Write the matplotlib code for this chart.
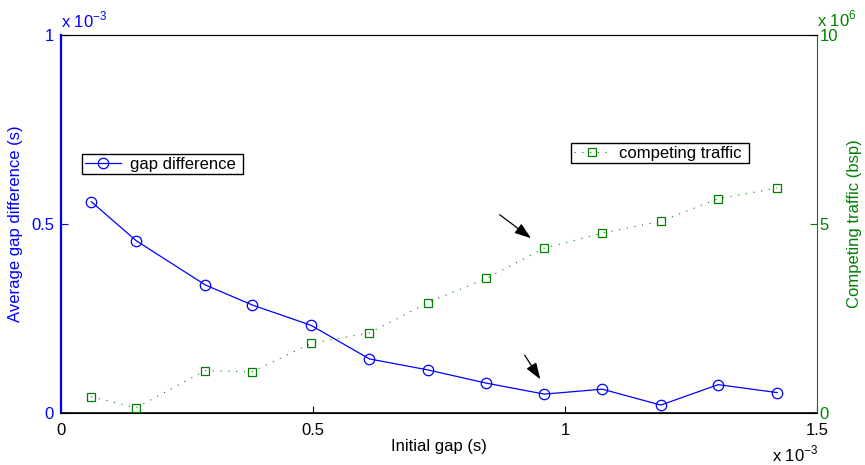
import matplotlib.pyplot as plt
import numpy as np

plt.rcParams['font.family'] = ['Liberation Sans', 'DejaVu Sans']

# initial gap (x 1e-3 s)
gap = [0.060, 0.149, 0.286, 0.379, 0.496, 0.612, 0.728, 0.844, 0.959, 1.074, 1.190, 1.304, 1.421]
# average gap difference (x 1e-3 s)
gap_diff = [0.559, 0.456, 0.339, 0.286, 0.232, 0.143, 0.114, 0.079, 0.050, 0.063, 0.021, 0.075, 0.054]
# competing traffic (x 1e6 bsp)
traffic = [0.43, 0.14, 1.12, 1.09, 1.84, 2.12, 2.92, 3.56, 4.36, 4.76, 5.07, 5.67, 5.95]

blue = '#0000ff'
green = '#008000'
W, H = 865, 465
fs = 12

fig = plt.figure(figsize=(W / 100, H / 100), dpi=100)
ax = fig.add_axes([61 / W, 1 - 413 / H, (817 - 61) / W, (413 - 35) / H])
ax2 = ax.twinx()

l1, = ax.plot(gap, gap_diff, color=blue, lw=0.9, marker='o', ms=7.5,
              mfc='none', mec=blue, mew=0.9, label='gap difference ')
l2, = ax2.plot(gap, traffic, color=green, lw=0.8, ls=(0, (1, 6)), marker='s', ms=6,
               mfc='none', mec=green, mew=0.9, label='competing traffic ')

ax.set_xlim(0, 1.5)
ax.set_ylim(0, 1)
ax2.set_ylim(0, 10)
ax.set_xticks([0, 0.5, 1, 1.5])
ax.set_xticklabels(['0', '0.5', '1', '1.5'])
ax.set_yticks([0, 0.5, 1])
ax.set_yticklabels(['0', '0.5', '1'])
ax2.set_yticks([0, 5, 10])
ax2.set_yticklabels(['0', '5', '10'])

ax.tick_params(axis='x', direction='in', length=5, pad=7, labelsize=fs, colors='black')
ax.tick_params(axis='y', direction='in', length=5, pad=5, labelsize=fs, colors=blue)
ax2.tick_params(axis='y', direction='in', length=5, pad=2, labelsize=fs, colors=green)
ax.tick_params(top=False)

for a in (ax, ax2):
    a.spines['top'].set_color('black')
    a.spines['bottom'].set_color('black')
    a.spines['left'].set_visible(False)
    a.spines['right'].set_visible(False)
ax.spines['left'].set_visible(True)
ax.spines['left'].set_color(blue)
ax.spines['left'].set_linewidth(1.6)
ax2.spines['right'].set_visible(True)
ax2.spines['right'].set_color(green)
ax.spines['bottom'].set_linewidth(1.2)

ax.set_xlabel('Initial gap (s)', fontsize=fs, labelpad=1)
ax.set_ylabel('Average gap difference (s)', fontsize=fs, color=blue, labelpad=6)
ax2.set_ylabel('Competing traffic (bsp)', fontsize=fs, color=green, labelpad=6)

# scale factors
fig.text(61 / W, 1 - 27 / H, r'x 10$^{\mathregular{-3}}$', color=blue, fontsize=fs, va='baseline')
fig.text(817 / W, 1 - 26 / H, r'x 10$^{\mathregular{6}}$', color=green, fontsize=fs, va='baseline')
fig.text(772 / W, 1 - 461 / H, r'x 10$^{\mathregular{-3}}$', color='black', fontsize=fs, va='baseline')

leg_kw = dict(fontsize=fs, fancybox=False, edgecolor='black', framealpha=1,
              numpoints=1, handlelength=2.2, borderaxespad=0, borderpad=0.15,
              handletextpad=0.55, bbox_transform=fig.transFigure, loc='upper left')
lg1 = ax.legend(handles=[l1], bbox_to_anchor=(82 / W, 1 - 154 / H), **leg_kw)
lg1.get_frame().set_linewidth(1.0)
lg2 = ax2.legend(handles=[l2], bbox_to_anchor=(571 / W, 1 - 143 / H), **leg_kw)
lg2.get_frame().set_linewidth(1.0)

# arrows
arrow = dict(arrowstyle='-|>,head_length=1.0,head_width=0.35', color='black', lw=0.9)
ax.annotate('', xy=(0.937, 0.458), xytext=(0.866, 0.529), arrowprops=arrow)
ax.annotate('', xy=(0.954, 0.083), xytext=(0.917, 0.159), arrowprops=arrow)

fig.savefig('out.png', dpi=100)
